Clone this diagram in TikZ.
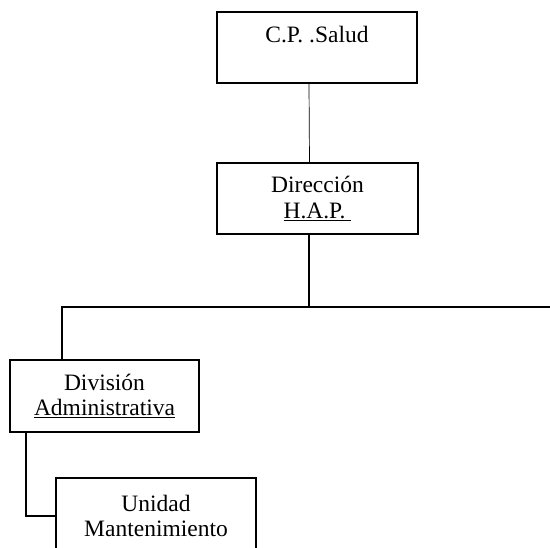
\documentclass[tikz,border=0pt]{standalone}
\usepackage{fontspec}
\setmainfont{Liberation Serif}

\begin{document}
\begin{tikzpicture}[x=1pt,y=-1pt,
   every node/.style={font=\fontsize{23.5}{25.5}\selectfont},
   box/.style={draw,line width=1.3pt,align=center,inner sep=0pt},
   link/.style={line width=1.3pt}]
\useasboundingbox (0,0) rectangle (550,548);
\clip (0,0) rectangle (550,548);
\node[box,minimum width=200pt,text height=31pt,text depth=40pt] (salud) at (317,47.5) {C.P. .Salud};
\node[box,minimum width=201pt,minimum height=71pt] (direccion) at (317.5,198.5) {Dirección\\\underline{H.A.P.\ }};
\node[box,minimum width=189pt,minimum height=72pt] (division) at (104.5,396) {División\\\underline{Administrativa}};
\node[box,minimum width=200pt,minimum height=76pt] (unidad) at (156,516) {Unidad\\Mantenimiento};
\coordinate (busR) at (552,307);
% lineas
\draw[line width=0.7pt] ([xshift=-8pt]salud.south) -- ([xshift=-8pt]direccion.north);
\draw[link] ([xshift=-8.5pt]direccion.south) -- ([xshift=-8.5pt]direccion.south |- busR);
\draw[link] (busR) -| ([xshift=-42.5pt]division.north);
\draw[link] ([xshift=-78.5pt]division.south) |- (unidad.west);
\end{tikzpicture}
\end{document}
